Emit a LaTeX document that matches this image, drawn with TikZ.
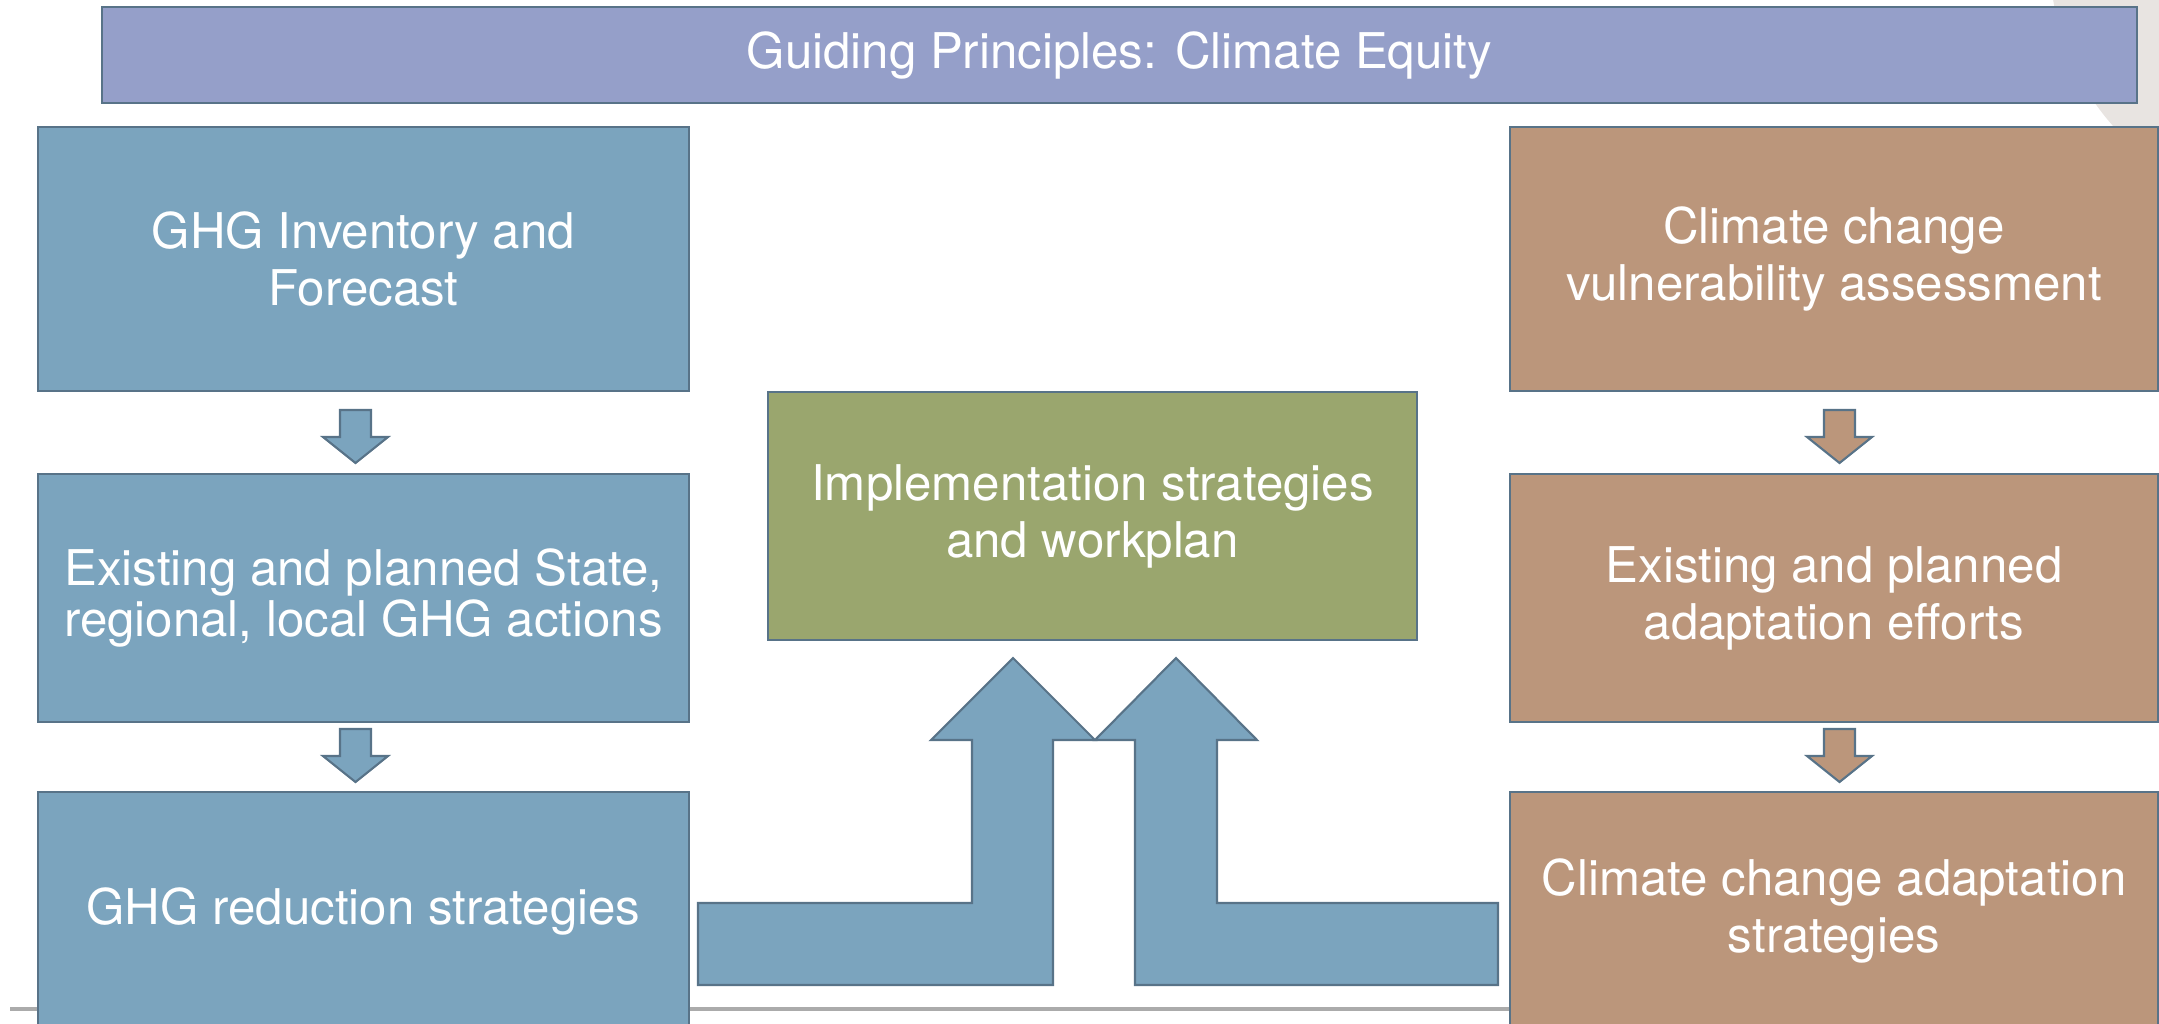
\documentclass[tikz,border=0pt]{standalone}
\usepackage{fontspec}
\setmainfont{TeX Gyre Heros}
\definecolor{edgeblue}{HTML}{587388}
\definecolor{principle}{HTML}{959FC9}
\definecolor{ghgblue}{HTML}{7BA4BE}
\definecolor{implgreen}{HTML}{9AA66E}
\definecolor{adaptbrown}{HTML}{BB967B}
\definecolor{cornergray}{HTML}{E8E4E1}
\definecolor{rulegray}{HTML}{ABABAB}

\begin{document}
\begin{tikzpicture}[x=0.01cm,y=-0.01cm,
  box/.style={draw=edgeblue,line width=0.6pt,text=white,align=center,inner sep=0pt,
    font=\fontsize{14}{16.2}\selectfont},
  ghgbox/.style={box,fill=ghgblue,minimum width=6.5cm},
  adaptbox/.style={box,fill=adaptbrown,minimum width=6.48cm},
  blockarrow/.style={draw=edgeblue,line width=0.6pt,fill=ghgblue,line join=miter},
  brownarrow/.style={blockarrow,fill=adaptbrown}]
\useasboundingbox (0,0) rectangle (2159,1024);
\clip (0,0) rectangle (2159,1024);

% background
\fill [cornergray] (2300,-40) circle [radius=250];
\draw [rulegray,line width=0.9pt] (10,1009) -- (2159,1009);

% header
\node [box,fill=principle,minimum width=20.33cm,minimum height=0.96cm] (equity) at (1119.5,55)
  {Guiding Principles: Climate Equity};

% mitigation side
\node [ghgbox,minimum height=2.64cm] (inventory) at (363.5,259) {GHG Inventory and\\Forecast};
\node [ghgbox,minimum height=2.48cm,font=\fontsize{14}{14.4}\selectfont] (actions) at (363.5,598)
  {Existing and planned State,\\regional, local GHG actions};
\node [ghgbox,minimum height=2.38cm] (reduction) at (363.5,911) {GHG reduction strategies};

% adaptation side
\node [adaptbox,minimum height=2.64cm] (vulnerability) at (1834,259) {Climate change\\vulnerability assessment};
\node [adaptbox,minimum height=2.48cm] (efforts) at (1834,598) {Existing and planned\\adaptation efforts};
\node [adaptbox,minimum height=2.38cm] (adaptation) at (1834,911) {Climate change adaptation\\strategies};

% centre
\node [box,fill=implgreen,minimum width=6.49cm,minimum height=2.48cm] (workplan) at (1092.5,516)
  {Implementation strategies\\and workplan};

% small arrows
\draw [blockarrow] (340,410) -- (371,410) -- (371,437) -- (388,437) -- (355.5,463) -- (323,437) -- (340,437) -- cycle;
\draw [blockarrow] (340,729) -- (371,729) -- (371,756) -- (388,756) -- (355.5,782) -- (323,756) -- (340,756) -- cycle;
\draw [brownarrow] (1824,410) -- (1855,410) -- (1855,437) -- (1872,437) -- (1839.5,463) -- (1807,437) -- (1824,437) -- cycle;
\draw [brownarrow] (1824,729) -- (1855,729) -- (1855,756) -- (1872,756) -- (1839.5,782) -- (1807,756) -- (1824,756) -- cycle;

% big arrows into the workplan
\draw [blockarrow] (698,903) -- (972,903) -- (972,740) -- (931,740) -- (1013,658) -- (1095,740)
  -- (1053,740) -- (1053,985) -- (698,985) -- cycle;
\draw [blockarrow] (1498,903) -- (1217,903) -- (1217,740) -- (1257,740) -- (1176,658) -- (1095,740)
  -- (1135,740) -- (1135,985) -- (1498,985) -- cycle;
\end{tikzpicture}
\end{document}
